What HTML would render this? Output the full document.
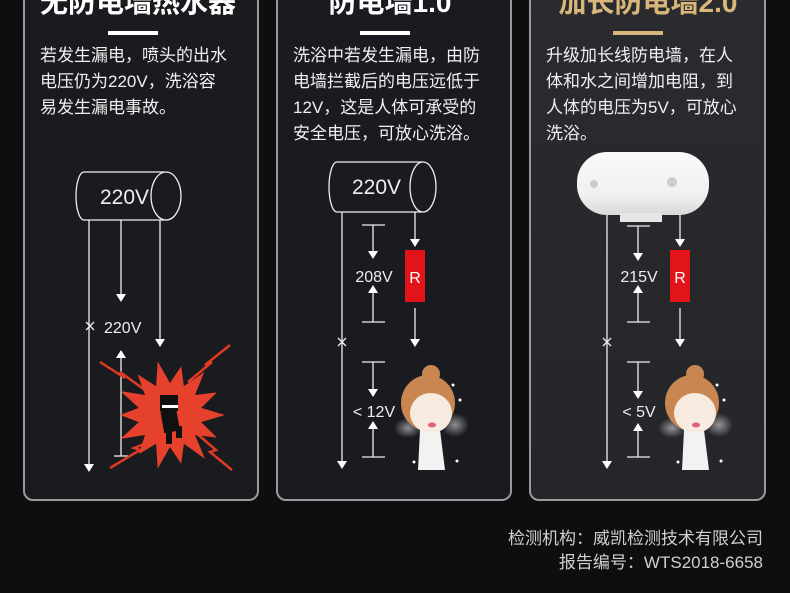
<!DOCTYPE html>
<html><head><meta charset="utf-8"><style>
html,body{margin:0;padding:0;background:#0e0e10;}
svg{display:block;}
text{font-family:"Liberation Sans","Noto Sans CJK SC",sans-serif;}
</style></head><body>
<svg width="790" height="593" viewBox="0 0 790 593" xmlns="http://www.w3.org/2000/svg">
<defs>
<linearGradient id="g3" x1="0" y1="0" x2="0" y2="1"><stop offset="0" stop-color="#2a2b2f"/><stop offset="1" stop-color="#25262a"/></linearGradient>
<radialGradient id="steam"><stop offset="0" stop-color="#ddd" stop-opacity=".6"/><stop offset="1" stop-color="#ddd" stop-opacity="0"/></radialGradient>
<linearGradient id="heat" x1="0" y1="0" x2="0" y2="1"><stop offset="0" stop-color="#fafafa"/><stop offset=".7" stop-color="#f0f0f0"/><stop offset="1" stop-color="#d8d8d8"/></linearGradient>
</defs>
<rect width="790" height="593" fill="#0e0e10"/>
<rect x="24" y="-20" width="234" height="520" rx="9" fill="#1a1b1f" stroke="#9a9a9a" stroke-width="2"/>
<rect x="277" y="-20" width="234" height="520" rx="9" fill="#191b21" stroke="#9a9a9a" stroke-width="2"/>
<rect x="530" y="-20" width="235" height="520" rx="9" fill="url(#g3)" stroke="#9a9a9a" stroke-width="2"/>

<g font-size="28" font-weight="bold" text-anchor="middle">
<text x="138" y="12" fill="#fff">无防电墙热水器</text>
<text x="390" y="12" fill="#fff">防电墙1.0</text>
<text x="648" y="12" fill="#d9b77a">加长防电墙2.0</text>
</g>
<rect x="108" y="31" width="50" height="4" fill="#fff"/>
<rect x="360" y="31" width="50" height="4" fill="#fff"/>
<rect x="613" y="31" width="50" height="4" fill="#d9b77a"/>

<g font-size="17" fill="#f0f0f0">
<text x="40" y="61">若发生漏电，喷头的出水</text>
<text x="40" y="87">电压仍为220V，洗浴容</text>
<text x="40" y="113">易发生漏电事故。</text>
<text x="293" y="61">洗浴中若发生漏电，由防</text>
<text x="293" y="87">电墙拦截后的电压远低于</text>
<text x="293" y="113">12V，这是人体可承受的</text>
<text x="293" y="139">安全电压，可放心洗浴。</text>
<text x="546" y="61">升级加长线防电墙，在人</text>
<text x="546" y="87">体和水之间增加电阻，到</text>
<text x="546" y="113">人体的电压为5V，可放心</text>
<text x="546" y="139">洗浴。</text>
</g>

<g stroke="#eee" stroke-width="1.3" fill="none">
<path d="M164,172 L84,172 A8,24 0 0 0 84,220 L164,220"/>
<ellipse cx="166" cy="196" rx="15" ry="24"/>
<line x1="89" y1="220" x2="89" y2="465"/>
<line x1="121" y1="220" x2="121" y2="295"/>
<line x1="160" y1="220" x2="160" y2="340"/>
<line x1="121" y1="356" x2="121" y2="456"/>
<line x1="114" y1="456" x2="128" y2="456"/>
<path d="M86,322 l8,8 M94,322 l-8,8"/>
</g>
<g fill="#fff">
<polygon points="84,464 94,464 89,472"/>
<polygon points="116,294 126,294 121,302"/>
<polygon points="155,339 165,339 160,347"/>
<polygon points="116,358 126,358 121,350"/>
</g>
<text x="100" y="204" fill="#eee" font-size="21">220V</text>
<text x="104" y="333" fill="#eee" font-size="16">220V</text>
<g stroke="#e03a25" stroke-width="2.5" fill="none">
<path d="M100,362 L125,378 L120,372 L145,390"/>
<path d="M230,345 L205,365 L212,362 L188,382"/>
<path d="M110,468 L140,450 L134,448 L160,438"/>
<path d="M232,470 L210,452 L216,450 L195,432"/>
</g>
<polygon fill="#e5412c" points="225,415 201.2,422.1 216.9,437.6 195,435 204.9,458.8 183.9,443.8 181.2,463.8 170,447 157.7,468.6 156.1,443.8 138.9,454.1 145,435 120.4,438.9 138.8,422.1 120,415 138.8,407.9 120.4,391.1 145,395 137.6,374.3 156.1,386.2 157.7,361.4 170,383 181.2,366.3 183.9,386.2 204.3,372 195,395 216.9,392.4 201.2,407.9"/>
<g fill="#111">
<rect x="160" y="395" width="18" height="16"/>
<rect x="162" y="410" width="16" height="22" transform="rotate(-10 170 420)"/>
<rect x="166" y="430" width="6" height="14"/>
<rect x="176" y="426" width="6" height="12"/>
</g>
<rect x="162" y="405" width="16" height="3" fill="#fff"/>

<g stroke="#eee" stroke-width="1.3" fill="none">
<path d="M422,162 L337,162 A8,25 0 0 0 337,212 L422,212"/>
<ellipse cx="423" cy="187" rx="13" ry="25"/>
<line x1="342" y1="212" x2="342" y2="462"/>
<line x1="415" y1="212" x2="415" y2="240"/>
<line x1="415" y1="308" x2="415" y2="340"/>
<line x1="362" y1="225" x2="385" y2="225"/>
<line x1="373" y1="225" x2="373" y2="252"/>
<line x1="373" y1="292" x2="373" y2="322"/>
<line x1="362" y1="322" x2="385" y2="322"/>
<line x1="362" y1="362" x2="385" y2="362"/>
<line x1="373" y1="362" x2="373" y2="390"/>
<line x1="373" y1="428" x2="373" y2="457"/>
<line x1="362" y1="457" x2="385" y2="457"/>
<path d="M338,338 l8,8 M346,338 l-8,8"/>
</g>
<g fill="#fff">
<polygon points="337,461 347,461 342,469"/>
<polygon points="410,239 420,239 415,247"/>
<polygon points="410,339 420,339 415,347"/>
<polygon points="368,251 378,251 373,259"/>
<polygon points="368,293 378,293 373,285"/>
<polygon points="368,389 378,389 373,397"/>
<polygon points="368,429 378,429 373,421"/>
</g>
<rect x="405" y="250" width="20" height="52" fill="#e2141a"/>
<text x="415" y="283" fill="#fff" font-size="16" text-anchor="middle">R</text>
<text x="352" y="194" fill="#eee" font-size="21">220V</text>
<text x="374" y="282" fill="#eee" font-size="16" text-anchor="middle">208V</text>
<text x="374" y="417" fill="#eee" font-size="16" text-anchor="middle">&lt; 12V</text>

<g id="girl">
<ellipse cx="408" cy="428" rx="14" ry="10" fill="url(#steam)"/>
<ellipse cx="455" cy="425" rx="14" ry="12" fill="url(#steam)"/>
<path d="M420,430 L440,430 L445,470 L418,470 Z" fill="#f2f2f2"/>
<circle cx="431" cy="374" r="9" fill="#c88650"/>
<ellipse cx="428" cy="403" rx="27" ry="28" fill="#c88650"/>
<ellipse cx="431" cy="413" rx="21" ry="20" fill="#f7ebe0"/>
<path d="M407,395 Q425,382 452,400 L452,392 Q430,372 405,392 Z" fill="#c88650"/>
<ellipse cx="432" cy="425" rx="4" ry="2.5" fill="#e0607a"/>
<g fill="#fff"><circle cx="453" cy="385" r="1.5"/><circle cx="460" cy="400" r="1.5"/><circle cx="457" cy="461" r="1.5"/><circle cx="414" cy="462" r="1.5"/></g>
</g>

<rect x="577" y="152" width="132" height="63" rx="30" fill="url(#heat)"/>
<rect x="620" y="213" width="42" height="9" fill="#e6e6e6"/>
<circle cx="594" cy="184" r="4" fill="#ccc"/>
<circle cx="672" cy="182" r="5" fill="#ccc"/>
<g stroke="#eee" stroke-width="1.3" fill="none">
<line x1="607" y1="215" x2="607" y2="462"/>
<line x1="680" y1="215" x2="680" y2="240"/>
<line x1="680" y1="308" x2="680" y2="340"/>
<line x1="627" y1="226" x2="650" y2="226"/>
<line x1="638" y1="226" x2="638" y2="254"/>
<line x1="638" y1="292" x2="638" y2="322"/>
<line x1="627" y1="322" x2="650" y2="322"/>
<line x1="627" y1="362" x2="650" y2="362"/>
<line x1="638" y1="362" x2="638" y2="392"/>
<line x1="638" y1="430" x2="638" y2="457"/>
<line x1="627" y1="457" x2="650" y2="457"/>
<path d="M603,338 l8,8 M611,338 l-8,8"/>
</g>
<g fill="#fff">
<polygon points="602,461 612,461 607,469"/>
<polygon points="675,239 685,239 680,247"/>
<polygon points="675,339 685,339 680,347"/>
<polygon points="633,253 643,253 638,261"/>
<polygon points="633,293 643,293 638,285"/>
<polygon points="633,391 643,391 638,399"/>
<polygon points="633,431 643,431 638,423"/>
</g>
<rect x="670" y="250" width="20" height="52" fill="#e2141a"/>
<text x="680" y="283" fill="#fff" font-size="16" text-anchor="middle">R</text>
<text x="639" y="282" fill="#eee" font-size="16" text-anchor="middle">215V</text>
<text x="639" y="417" fill="#eee" font-size="16" text-anchor="middle">&lt; 5V</text>
<use href="#girl" transform="translate(264,0)"/>

<g font-size="17" fill="#d0d0d0" text-anchor="end">
<text x="763" y="544">检测机构：威凯检测技术有限公司</text>
<text x="763" y="568">报告编号：WTS2018-6658</text>
</g>
</svg>
</body></html>
